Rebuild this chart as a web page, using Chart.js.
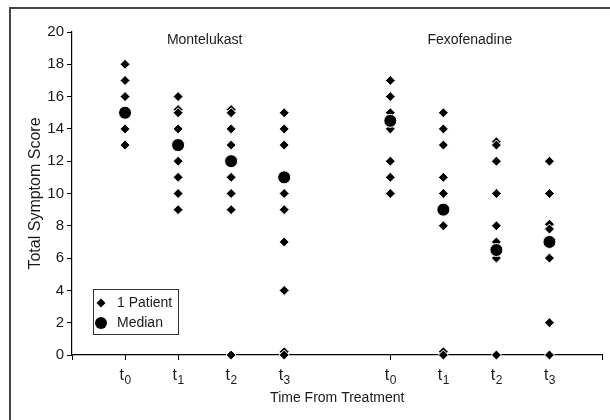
<!DOCTYPE html>
<html>
<head>
<meta charset="utf-8">
<script src="https://cdn.jsdelivr.net/npm/chart.js@4.4.1/dist/chart.umd.min.js"></script>
<style>
html, body { margin: 0; padding: 0; background: #fff; }
</style>
</head>
<body>
<canvas id="myChart" width="610" height="420"></canvas>
<script>
"use strict";
// groups and time points
const groups = ['Montelukast', 'Fexofenadine'];
const times = ['0', '1', '2', '3'];

// individual patient scores per time point (t0..t3)
const montelukastScores = [
    [18, 17, 16, 15, 14, 13],
    [16, 15.2, 15, 14, 13, 12, 11, 10, 9],
    [15.2, 15, 14, 13, 12, 11, 10, 9, 0],
    [15, 14, 13, 11, 10, 9, 7, 4, 0.2, 0]
];
const fexofenadineScores = [
    [17, 16, 15, 14, 12, 11, 10],
    [15, 14, 13, 11, 10, 9, 8, 0.2, 0],
    [13.2, 13, 12, 10, 8, 7, 6, 0],
    [12, 10, 8.1, 7.8, 7, 6, 2, 0]
];
const montelukastMedians = [15, 13, 12, 11];
const fexofenadineMedians = [14.5, 9, 6.5, 7];

const yTicks = { min: 0, max: 20, step: 2 };
const FONT = "'Liberation Sans Narrow', 'Arial Narrow', 'Liberation Sans', sans-serif";

// x position of a column: groups separated by one empty slot
function xPos(g, t) { return g * (times.length + 1) + t + 1; }
const xMax = groups.length * (times.length + 1);

const allScores = [montelukastScores, fexofenadineScores];
const allMedians = [montelukastMedians, fexofenadineMedians];
let patientPoints = [];
let medianPoints = [];
let tickVals = [0];
allScores.forEach(function(cols, g) {
    cols.forEach(function(vals, t) {
        vals.forEach(function(v) { patientPoints.push({ x: xPos(g, t), y: v }); });
        medianPoints.push({ x: xPos(g, t), y: allMedians[g][t] });
        tickVals.push(xPos(g, t));
    });
});
tickVals.push(xMax);

const extras = {
    id: 'extras',
    beforeDraw(chart) {
        const c = chart.ctx;
        c.save();
        c.strokeStyle = '#444';
        c.lineWidth = 2;
        c.beginPath();
        c.moveTo(10, 420);
        c.lineTo(10, 8);
        c.lineTo(610, 8);
        c.stroke();
        c.restore();
    },
    afterDraw(chart) {
        const c = chart.ctx;
        const xs = chart.scales.x;
        const ys = chart.scales.y;
        c.save();
        c.fillStyle = '#1a1a1a';
        c.textBaseline = 'alphabetic';
        // t with subscript labels
        groups.forEach(function(name, g) {
            times.forEach(function(d, t) {
                const px = xs.getPixelForValue(xPos(g, t));
                c.font = '16px ' + FONT;
                const w1 = c.measureText('t').width;
                c.font = '12px ' + FONT;
                const w2 = c.measureText(d).width;
                const start = px - (w1 + w2) / 2;
                c.font = '16px ' + FONT;
                c.fillText('t', start, 380);
                c.font = '12px ' + FONT;
                c.fillText(d, start + w1 + 0.5, 384);
            });
            // group label over the middle of its columns
            c.font = '14px ' + FONT;
            c.textAlign = 'center';
            c.textBaseline = 'middle';
            c.fillText(name, xs.getPixelForValue(xPos(g, 1.5)), ys.getPixelForValue(19.5));
            c.textAlign = 'left';
            c.textBaseline = 'alphabetic';
        });

        // legend box
        c.strokeStyle = '#333';
        c.lineWidth = 1;
        c.fillStyle = '#fff';
        c.fillRect(93.5, 289.5, 85, 45);
        c.strokeRect(93.5, 289.5, 85, 45);
        const ds = chart.data.datasets;
        const rows = [
            { ds: ds[1], y: 303, r: 4.5 },
            { ds: ds[0], y: 323, r: 6 }
        ];
        rows.forEach(function(row) {
            c.fillStyle = '#000';
            c.strokeStyle = '#000';
            Chart.helpers.drawPoint(c, { pointStyle: row.ds.pointStyle, radius: row.r, rotation: 0, borderWidth: 0 }, 101, row.y);
            c.fillStyle = '#1a1a1a';
            c.font = '14px ' + FONT;
            c.textBaseline = 'middle';
            c.fillText(row.ds.label, 117, row.y);
        });
        c.restore();
    }
};

const ctx = document.getElementById('myChart');
var myChart = new Chart(ctx, {
    type: 'scatter',
    data: {
        datasets: [{
                label: 'Median',
                data: medianPoints,
                clip: false,
                pointStyle: 'circle',
                pointRadius: 6.5,
                pointBackgroundColor: '#000',
                pointBorderColor: '#fff',
                pointBorderWidth: 1
            },
            {
                label: '1 Patient',
                data: patientPoints,
                clip: false,
                pointStyle: 'rectRot',
                pointRadius: 5,
                pointBackgroundColor: '#000',
                pointBorderColor: '#fff',
                pointBorderWidth: 1
            }
        ]
    },
    options: {
        responsive: false,
        animation: false,
        events: [],
        layout: { padding: { top: 32, right: 4, left: 0, bottom: 0 } },
        plugins: {
            legend: { display: false },
            tooltip: { enabled: false }
        },
        scales: {
            x: {
                type: 'linear',
                min: 0,
                max: xMax,
                afterBuildTicks: function(scale) {
                    scale.ticks = tickVals.map(function(v) { return { value: v }; });
                },
                afterFit: function(scale) { scale.height = 65; },
                ticks: { callback: function() { return ''; }, color: 'transparent' },
                grid: { drawOnChartArea: false, drawTicks: true, tickLength: 5, color: '#000', lineWidth: 1 },
                border: { display: true, color: '#000', width: 1.2 },
                title: {
                    display: true,
                    text: 'Time From Treatment',
                    color: '#1a1a1a',
                    font: { family: FONT, size: 14 },
                    padding: { top: 0, bottom: 13 }
                }
            },
            y: {
                min: yTicks.min,
                max: yTicks.max,
                afterFit: function(scale) { scale.width = 72; },
                ticks: {
                    stepSize: yTicks.step,
                    color: '#1a1a1a',
                    padding: 3,
                    font: { family: FONT, size: 15 }
                },
                grid: { drawOnChartArea: false, drawTicks: true, tickLength: 5, color: '#000', lineWidth: 1 },
                border: { display: true, color: '#000', width: 1.2 },
                title: {
                    display: true,
                    text: 'Total Symptom Score',
                    color: '#1a1a1a',
                    font: { family: FONT, size: 16 },
                    padding: { top: 26, bottom: 0 }
                }
            }
        }
    },
    plugins: [extras]
});
</script>
</body>
</html>
